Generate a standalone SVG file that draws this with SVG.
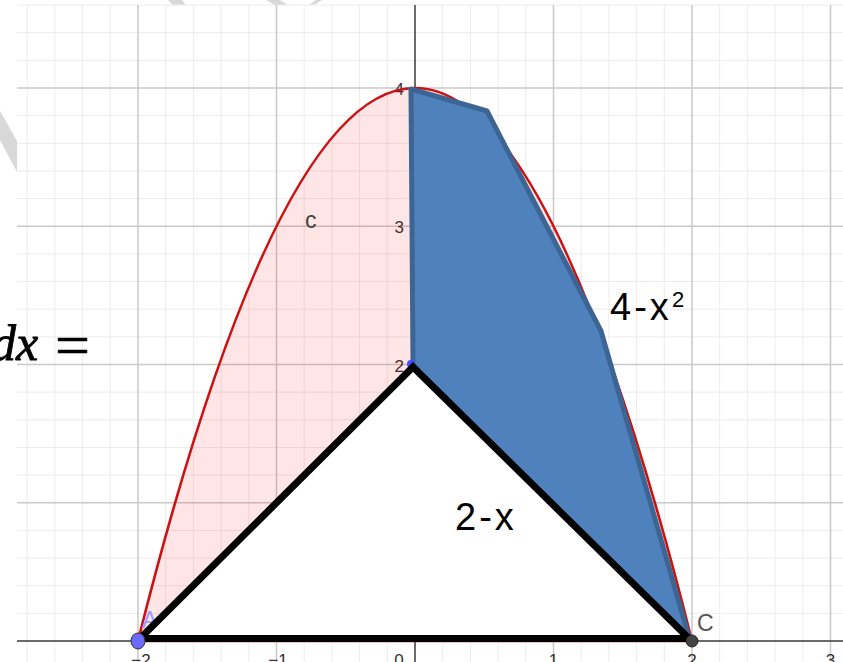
<svg xmlns="http://www.w3.org/2000/svg" width="843" height="662" viewBox="0 0 843 662">
<style>
.minor{stroke:#ececec;stroke-width:1}
.major{stroke:#c9c9c9;stroke-width:1.5}
.axis{stroke:#3a3a3a;stroke-width:1.5}
.tick{font-family:"Liberation Sans",Arial,sans-serif;font-size:17px;fill:#333}
.lbl{font-family:"Liberation Sans",Arial,sans-serif;font-size:23px}
.big{font-family:"Liberation Sans",Arial,sans-serif;font-size:38px;fill:#000;letter-spacing:3px}
.wm{fill:#d8d8d8}
</style>
<rect width="843" height="662" fill="#fff"/>
<g id="watermark">
<polygon class="wm" points="0,111 17,141 17,172 0,140"/>
<polygon class="wm" points="168,0 182,0 186,5 173,5"/>
<polygon class="wm" points="266,0 280,0 288,5 275,5"/>
<polygon class="wm" points="316,0 322,0 314,5 309,5"/>
</g>
<g id="grid">
<rect x="17" y="5" width="826" height="657" fill="#fff"/>
<line class="minor" x1="17" y1="5" x2="843" y2="5"/>
<g class="minor">
<line x1="27.2" y1="5" x2="27.2" y2="662"/><line x1="54.9" y1="5" x2="54.9" y2="662"/><line x1="82.6" y1="5" x2="82.6" y2="662"/><line x1="110.3" y1="5" x2="110.3" y2="662"/>
<line x1="165.7" y1="5" x2="165.7" y2="662"/><line x1="193.4" y1="5" x2="193.4" y2="662"/><line x1="221.1" y1="5" x2="221.1" y2="662"/><line x1="248.8" y1="5" x2="248.8" y2="662"/>
<line x1="304.2" y1="5" x2="304.2" y2="662"/><line x1="331.9" y1="5" x2="331.9" y2="662"/><line x1="359.6" y1="5" x2="359.6" y2="662"/><line x1="387.3" y1="5" x2="387.3" y2="662"/>
<line x1="442.7" y1="5" x2="442.7" y2="662"/><line x1="470.4" y1="5" x2="470.4" y2="662"/><line x1="498.1" y1="5" x2="498.1" y2="662"/><line x1="525.8" y1="5" x2="525.8" y2="662"/>
<line x1="581.2" y1="5" x2="581.2" y2="662"/><line x1="608.9" y1="5" x2="608.9" y2="662"/><line x1="636.6" y1="5" x2="636.6" y2="662"/><line x1="664.3" y1="5" x2="664.3" y2="662"/>
<line x1="719.7" y1="5" x2="719.7" y2="662"/><line x1="747.4" y1="5" x2="747.4" y2="662"/><line x1="775.1" y1="5" x2="775.1" y2="662"/><line x1="802.8" y1="5" x2="802.8" y2="662"/>
<line x1="17" y1="32.7" x2="843" y2="32.7"/><line x1="17" y1="60.3" x2="843" y2="60.3"/>
<line x1="17" y1="115.7" x2="843" y2="115.7"/><line x1="17" y1="143.3" x2="843" y2="143.3"/><line x1="17" y1="171" x2="843" y2="171"/><line x1="17" y1="198.6" x2="843" y2="198.6"/>
<line x1="17" y1="253.9" x2="843" y2="253.9"/><line x1="17" y1="281.5" x2="843" y2="281.5"/><line x1="17" y1="309.2" x2="843" y2="309.2"/><line x1="17" y1="336.9" x2="843" y2="336.9"/>
<line x1="17" y1="392.2" x2="843" y2="392.2"/><line x1="17" y1="419.8" x2="843" y2="419.8"/><line x1="17" y1="447.5" x2="843" y2="447.5"/><line x1="17" y1="475.1" x2="843" y2="475.1"/>
<line x1="17" y1="530.4" x2="843" y2="530.4"/><line x1="17" y1="558.1" x2="843" y2="558.1"/><line x1="17" y1="585.7" x2="843" y2="585.7"/><line x1="17" y1="613.4" x2="843" y2="613.4"/>
</g>
<g class="major">
<line x1="138" y1="5" x2="138" y2="662"/><line x1="276.5" y1="5" x2="276.5" y2="662"/><line x1="553.5" y1="5" x2="553.5" y2="662"/><line x1="692" y1="5" x2="692" y2="662"/><line x1="830.5" y1="5" x2="830.5" y2="662"/>
<line x1="17" y1="88" x2="843" y2="88"/><line x1="17" y1="226.2" x2="843" y2="226.2"/><line x1="17" y1="364.5" x2="843" y2="364.5"/><line x1="17" y1="502.8" x2="843" y2="502.8"/>
</g>
<line class="axis" x1="415" y1="5" x2="415" y2="662"/>
<line class="axis" x1="17" y1="641" x2="843" y2="641"/>
</g>
<g id="ticks">
<text class="tick" x="404" y="95" text-anchor="end">4</text>
<text class="tick" x="404" y="233" text-anchor="end">3</text>
<text class="tick" x="404" y="372" text-anchor="end">2</text>
<text class="tick" x="141" y="666" text-anchor="middle">−2</text>
<text class="tick" x="278" y="666" text-anchor="middle">−1</text>
<text class="tick" x="399" y="666" text-anchor="middle">0</text>
<text class="tick" x="553.5" y="666" text-anchor="middle">1</text>
<text class="tick" x="692" y="666" text-anchor="middle">2</text>
<text class="tick" x="830.5" y="666" text-anchor="middle">3</text>
</g>
<g id="region-c">
<path d="M138,641 Q415,-465 692,641 Z" fill="#ff0000" fill-opacity="0.1" stroke="#cc1111" stroke-width="2.6"/>
<text class="lbl" x="305" y="228" fill="#444">c</text>
</g>
<g id="blue-polygon">
<polygon points="411,89 487,111 601,331 689,637 413,366" fill="#4f81bd" stroke="#3d6594" stroke-width="5" stroke-linejoin="round"/>
</g>
<g id="point-B">
<circle cx="411" cy="364" r="4" fill="#4a4aff"/>
</g>
<g id="label-A">
<text class="lbl" x="142" y="628" fill="#9a9aff">A</text>
</g>
<g id="triangle">
<polygon points="140,638.5 413,367 689,638.5" fill="#fff" stroke="#000" stroke-width="7" stroke-linejoin="miter"/>
</g>
<g id="point-A">
<ellipse cx="138" cy="641" rx="7" ry="8" fill="#6b6bff" stroke="#333" stroke-width="1"/>
</g>
<g id="point-C">
<circle cx="692" cy="641" r="6" fill="#444" stroke="#222" stroke-width="1"/>
<text class="lbl" x="697" y="631" fill="#555">C</text>
</g>
<g id="labels">
<text class="big" x="610" y="320">4-x</text>
<text x="672" y="307" font-family="'Liberation Sans',Arial,sans-serif" font-size="22px" fill="#000">2</text>
<text class="big" x="455" y="530">2-x</text>
<text x="-9" y="360" font-family="'Liberation Serif','Times New Roman',serif" font-size="50" font-style="italic" fill="#000" stroke="#000" stroke-width="0.8">dx</text>
<text x="55" y="366" font-family="'Liberation Serif','Times New Roman',serif" font-size="62" fill="#000" stroke="#000" stroke-width="0.6">=</text>
</g>
</svg>
